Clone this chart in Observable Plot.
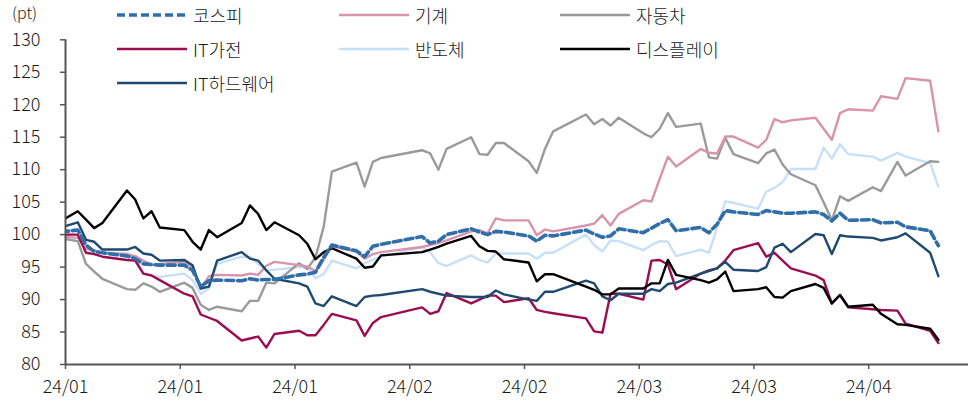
<!DOCTYPE html>
<html><head><meta charset="utf-8">
<script src="https://cdn.jsdelivr.net/npm/d3@7"></script>
<script src="https://cdn.jsdelivr.net/npm/@observablehq/plot@0.6"></script>
<style>
body{margin:0;background:#fff;font-family:"Noto Sans CJK KR","Noto Sans",sans-serif;}
#wrap{position:relative;width:968px;height:401px;overflow:hidden;}
#chart{position:absolute;left:0;top:0;}
.item{position:absolute;height:24px;display:flex;align-items:center;font-size:18px;font-weight:300;color:#1a1a1a;white-space:nowrap;}
.item svg{margin-right:6px;}
#unit{position:absolute;left:12px;top:3px;font-size:16px;font-weight:300;color:#1a1a1a;line-height:18px;}
</style></head><body><div id="wrap"><div id="chart"></div><div id="unit">(pt)</div></div>
<script>
// trading dates (first point = base 100)
const dates = ["2023-12-28",
"2024-01-02","2024-01-03","2024-01-04","2024-01-05",
"2024-01-08","2024-01-09","2024-01-10","2024-01-11","2024-01-12",
"2024-01-15","2024-01-16","2024-01-17","2024-01-18","2024-01-19",
"2024-01-22","2024-01-23","2024-01-24","2024-01-25","2024-01-26",
"2024-01-29","2024-01-30","2024-01-31","2024-02-01","2024-02-02",
"2024-02-05","2024-02-06","2024-02-07","2024-02-08",
"2024-02-13","2024-02-14","2024-02-15","2024-02-16",
"2024-02-19","2024-02-20","2024-02-21","2024-02-22","2024-02-23",
"2024-02-26","2024-02-27","2024-02-28","2024-02-29",
"2024-03-04","2024-03-05","2024-03-06","2024-03-07","2024-03-08",
"2024-03-11","2024-03-12","2024-03-13","2024-03-14","2024-03-15",
"2024-03-18","2024-03-19","2024-03-20","2024-03-21","2024-03-22",
"2024-03-25","2024-03-26","2024-03-27","2024-03-28","2024-03-29",
"2024-04-01","2024-04-02","2024-04-03","2024-04-04","2024-04-05",
"2024-04-08","2024-04-09","2024-04-11","2024-04-12","2024-04-15","2024-04-16"];

const kospi = [100,
100.7,98.4,97.4,97.2, 96.7,96.3,95.5,95.4,95.3, 95.3,94.5,92.0,92.9,93.0, 92.9,93.2,93.0,93.1,93.1,
93.8,93.9,94.2,96.5,98.4, 97.5,96.6,98.2,98.5, 99.7,98.7,99.0,100.0, 100.9,100.4,100.0,100.5,100.4,
99.8,99.0,99.9,99.8, 100.7,100.1,99.6,99.8,100.9, 100.3,101.0,101.7,102.3,100.6, 101.1,100.3,101.6,103.7,103.5,
103.1,103.7,103.5,103.3,103.3, 103.5,103.1,102.1,103.3,102.2, 102.3,101.8,101.9,101.2,100.6,98.3];

const machinery = [100,
99.5,97.8,97.6,97.2, 97.0,96.7,96.0,95.3,95.5, 95.8,95.0,91.7,93.6,93.8, 93.7,94.0,93.8,95.2,95.8,
95.3,95.1,94.4,96.1,98.2, 97.4,96.3,97.0,97.3, 98.1,98.4,98.7,99.1, 100.5,100.7,100.2,102.5,102.2,
102.2,99.9,100.8,100.5, 101.4,101.7,103.0,101.4,103.2, 105.3,105.1,108.6,112.0,110.5, 113.2,112.6,112.5,115.1,115.1,
113.4,114.6,117.8,117.3,117.6, 118.0,116.3,114.6,118.7,119.3, 119.1,121.3,120.9,124.1,123.7,115.9];

const autos = [100,
99.0,95.5,94.3,93.2, 91.6,91.5,92.5,92.0,91.2, 92.6,91.8,89.2,88.4,88.9, 88.2,89.8,89.8,92.6,92.5,
95.6,94.7,96.5,101.2,109.7, 111.1,107.4,111.2,111.8, 113.0,112.5,110.0,113.2, 115.0,112.4,112.3,114.1,114.1,
111.3,109.5,113.2,115.9, 118.5,117.0,117.8,116.8,118.0, 115.6,115.0,116.3,118.7,116.6, 117.1,111.9,111.7,114.9,112.4,
111.0,112.5,113.1,110.8,109.3, 107.6,105.0,102.2,105.9,105.2, 107.3,106.7,111.2,109.1,111.3,111.2];

const itAppliance = [100,
100.0,97.2,97.0,96.6, 96.1,96.0,94.0,93.7,93.0, 90.9,90.5,87.7,87.2,86.7, 83.7,84.0,84.3,82.6,84.7,
85.2,84.5,84.5,86.1,87.8, 86.8,84.4,86.4,87.3, 88.8,87.8,88.2,91.0, 89.4,90.0,90.6,90.6,89.6,
90.2,88.4,88.1,87.9, 87.1,85.1,84.9,90.9,90.9, 90.0,96.0,96.1,95.4,91.6, 94.0,94.5,94.8,96.0,97.6,
98.7,96.6,97.2,96.0,94.8, 93.7,93.0,89.4,90.7,88.8, 88.5,88.4,88.3,86.3,85.2,83.3];

const semis = [100,
100.8,98.0,97.5,97.2, 97.1,96.5,94.0,93.7,93.5, 94.0,93.0,90.9,91.7,95.5, 96.6,96.6,95.5,94.5,94.6,
95.0,95.0,93.3,93.9,96.0, 94.8,95.6,96.1,96.6, 98.1,97.3,95.6,95.2, 96.8,96.1,95.7,97.1,97.1,
97.1,96.3,97.2,97.2, 100.0,98.4,97.4,99.1,99.0, 97.6,98.4,99.0,98.9,96.7, 97.7,97.2,101.0,105.1,104.9,
104.0,106.6,107.2,108.1,110.1, 110.1,113.4,111.7,113.9,112.4, 112.0,111.4,112.6,112.0,111.0,107.4];

const display = [100,
103.6,102.3,101.0,101.8, 106.8,105.4,102.5,103.6,101.1, 100.7,98.9,97.7,100.7,99.6, 101.8,104.5,103.2,100.7,101.9,
99.9,98.6,96.2,97.3,97.9, 96.3,94.9,95.1,96.8, 97.3,97.7,98.1,98.6, 99.8,98.2,97.5,97.4,96.2,
95.7,92.8,93.9,93.9, 92.0,91.5,90.8,90.8,91.7, 91.7,92.5,92.5,96.1,93.8, 93.0,92.6,93.1,94.3,91.3,
91.6,91.9,90.4,90.3,91.3, 92.4,91.8,89.4,90.7,88.9, 89.2,87.8,86.2,86.1,85.5,83.8];

const itHardware = [100,
101.9,99.2,98.9,97.7, 97.7,98.1,97.1,96.9,96.0, 96.1,95.3,91.7,92.0,96.0, 97.3,96.3,96.0,94.5,93.2,
92.5,92.0,89.4,89.0,90.5, 89.0,90.4,90.6,90.7, 91.6,91.2,90.9,90.6, 90.4,90.4,90.4,91.4,90.8,
90.0,89.8,91.2,91.2, 92.9,92.5,90.5,89.9,90.9, 90.9,91.6,91.3,92.4,92.6, 94.0,94.4,94.8,95.8,94.6,
94.4,95.0,98.0,98.6,97.3, 100.1,99.9,97.0,99.9,99.7, 99.5,99.1,99.6,100.2,97.2,93.6];

const seriesNames = ["코스피","기계","자동차","IT가전","반도체","디스플레이","IT하드웨어"];
const seriesValues = [kospi, machinery, autos, itAppliance, semis, display, itHardware];
const seriesColors = ["#2f6ea8","#d894aa","#9a9a9a","#9b0d4f","#c7e0fa","#000000","#1e4a70"];
const yTicks = [80,85,90,95,100,105,110,115,120,125,130];
const xTickLabels = ["24/01","24/01","24/01","24/02","24/02","24/03","24/03","24/04"];

const DAY = 864e5;
const x0 = new Date(Date.UTC(2023,11,31,12));
const pxPerDay = 8.196;
const marginLeft = 65, width = 968, height = 401, marginTop = 39.3, marginBottom = 37;
const x1 = new Date(+x0 + (width - marginLeft) / pxPerDay * DAY);
const xTicks = xTickLabels.map((_, k) => new Date(+x0 + 14 * k * DAY));
const labelOf = new Map(xTicks.map((d, i) => [+d, xTickLabels[i]]));

const parse = d3.utcParse("%Y-%m-%d");
const table = [];
seriesNames.forEach((name, s) => seriesValues[s].forEach((v, i) => table.push({series: name, date: parse(dates[i]), value: v})));

const drawOrder = ["반도체","자동차","기계","IT가전","IT하드웨어","디스플레이","코스피"];
const lineMarks = drawOrder.map(name => {
  const s = seriesNames.indexOf(name);
  const dashed = name === "코스피";
  return Plot.line(table.filter(d => d.series === name), {
    x: "date", y: "value", stroke: seriesColors[s],
    strokeWidth: dashed ? 3.6 : 2.4,
    strokeDasharray: dashed ? "8,4" : null,
    clip: true
  });
});

const chart = Plot.plot({
  width, height, marginLeft, marginRight: 0, marginTop, marginBottom,
  style: {fontFamily: '"Noto Sans CJK KR","Noto Sans",sans-serif', fontSize: "18px", fontWeight: 300, color: "#1a1a1a", background: "transparent"},
  x: {type: "utc", domain: [x0, x1]},
  y: {domain: [80, 130]},
  marks: [
    Plot.axisY({ticks: yTicks, tickSize: 5, tickPadding: 20, label: null, stroke: "#555", strokeWidth: 1.5, fontSize: 18}),
    Plot.axisX({ticks: xTicks, tickFormat: d => labelOf.get(+d), tickSize: 5, tickPadding: 11, label: null, stroke: "#555", strokeWidth: 1.5, fontSize: 18}),
    ...lineMarks,
    Plot.ruleX([x0], {stroke: "#555", strokeWidth: 2}),
    Plot.ruleY([80], {stroke: "#555", strokeWidth: 2})
  ]
});
document.getElementById("chart").appendChild(chart);

// legend
const legendCols = [117, 339, 560];
const legendRows = [15, 49, 83];
const legendLayout = [["코스피",0,0],["기계",1,0],["자동차",2,0],["IT가전",0,1],["반도체",1,1],["디스플레이",2,1],["IT하드웨어",0,2]];
const wrap = document.getElementById("wrap");
legendLayout.forEach(([name, c, r]) => {
  const s = seriesNames.indexOf(name);
  const dashed = name === "코스피";
  const div = document.createElement("div");
  div.className = "item";
  div.style.left = legendCols[c] + "px";
  div.style.top = (legendRows[r] - 12) + "px";
  div.innerHTML = `<svg width="70" height="8"><line x1="0" y1="4" x2="70" y2="4" stroke="${seriesColors[s]}" stroke-width="${dashed ? 3.6 : 2.6}" ${dashed ? 'stroke-dasharray="8,4"' : ''}/></svg><span>${name}</span>`;
  wrap.appendChild(div);
});
</script></body></html>
